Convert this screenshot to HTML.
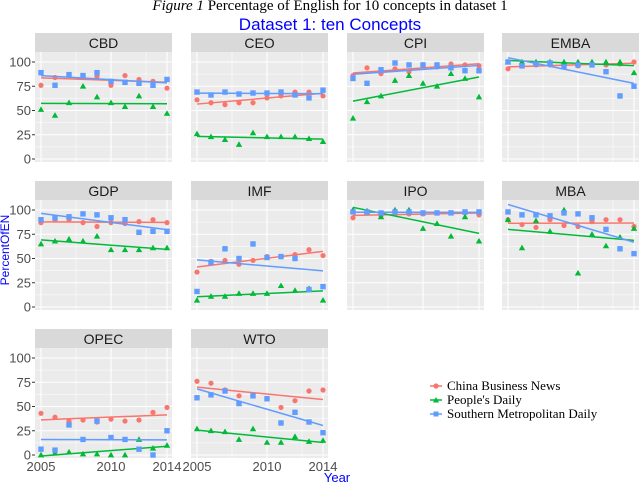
<!DOCTYPE html>
<html><head><meta charset="utf-8"><style>
body{margin:0;background:#fff;}
svg{display:block;}
</style></head><body>
<svg id="c" width="640" height="485" xmlns="http://www.w3.org/2000/svg">
<text x="330" y="10" text-anchor="middle" font-family="Liberation Serif, serif" font-size="15" fill="#000"><tspan font-style="italic">Figure 1</tspan> Percentage of English for 10 concepts in dataset 1</text>
<text x="330" y="30" text-anchor="middle" font-family="Liberation Sans, sans-serif" font-size="17" fill="#0000ff">Dataset 1: ten Concepts</text>
<text transform="translate(9,250) rotate(-90)" text-anchor="middle" font-family="Liberation Sans, sans-serif" font-size="12" fill="#0000ff">PercentOfEN</text>
<text x="337" y="482" text-anchor="middle" font-family="Liberation Sans, sans-serif" font-size="13" fill="#0000ff">Year</text>
<g id="panels"></g>
<g font-family="Liberation Serif, serif" font-size="13">
<line x1="430" y1="386" x2="442" y2="386" stroke="#F8766D" stroke-width="1.5"/><circle cx="436" cy="386" r="2.6" fill="#F8766D"/>
<text x="447" y="390">China Business News</text>
<line x1="430" y1="400" x2="442" y2="400" stroke="#00BA38" stroke-width="1.5"/><path d="M436,397 L439,402.5 L433,402.5Z" fill="#00BA38"/>
<text x="447" y="404">People's Daily</text>
<line x1="430" y1="414" x2="442" y2="414" stroke="#619CFF" stroke-width="1.5"/><rect x="433.5" y="411.5" width="5" height="5" fill="#619CFF"/>
<text x="447" y="418">Southern Metropolitan Daily</text>
</g>
</svg>
<script>
const years=[2005,2006,2007,2008,2009,2010,2011,2012,2013,2014];
const concepts=["CBD","CEO","CPI","EMBA","GDP","IMF","IPO","MBA","OPEC","WTO"];
const cbn={
CBD:[76,84,86,86,85,76,86,82,80,73],
CEO:[61,58,56,58,58,63,65,69,69,65],
CPI:[86,94,88,93,90,97,95,98,97,96],
EMBA:[93,97,97,97,97,96,97,97,98,100],
GDP:[87,90,90,87,83,87,86,88,90,87],
IMF:[36,47,48,44,48,52,52,54,59,53],
IPO:[92,97,94,96,96,96,97,97,97,95],
MBA:[90,85,82,90,84,83,88,90,90,83],
OPEC:[43,39,35,36,34,37,35,36,44,49],
WTO:[76,74,67,61,62,58,49,56,66,67]};
const pd={
CBD:[51,45,58,75,64,58,54,65,54,47],
CEO:[26,23,20,15,27,23,23,23,21,18],
CPI:[42,59,65,81,86,78,75,88,83,64],
EMBA:[100,100,100,100,100,100,100,100,100,89],
GDP:[65,68,70,68,73,59,59,59,61,61],
IMF:[7,11,11,14,14,14,22,17,19,7],
IPO:[100,99,93,100,100,81,86,73,93,68],
MBA:[90,61,89,78,100,35,75,63,72,81],
OPEC:[0,2,3,1,1,0,0,16,7,10],
WTO:[27,25,24,16,27,13,13,19,14,15]};
const smd={
CBD:[89,76,87,86,89,80,79,78,76,82],
CEO:[69,66,69,67,68,68,69,66,63,71],
CPI:[83,78,92,99,97,97,97,94,91,91],
EMBA:[100,96,98,99,95,97,97,90,65,75],
GDP:[90,92,93,96,95,92,90,77,78,78],
IMF:[16,46,60,50,65,51,52,50,18,21],
IPO:[98,98,97,98,98,97,97,97,98,98],
MBA:[98,95,95,94,97,96,92,80,60,55],
OPEC:[6,5,31,16,35,18,16,6,0,25],
WTO:[59,62,66,53,61,58,33,44,34,23]};
const yTicks=[0,25,50,75,100];
const xTicks=[2005,2010,2014];

const NS="http://www.w3.org/2000/svg";
const root=document.getElementById('panels');
function mk(tag,attrs,parent){const e=document.createElementNS(NS,tag);for(const k in attrs)e.setAttribute(k,attrs[k]);(parent||root).appendChild(e);return e;}
const colL=[35,191,347,502],rowT=[33,181,329],PW=137,SH=19,PH=110;
const series=[{d:cbn,c:"#F8766D",s:"circle",n:"china-business-news"},{d:pd,c:"#00BA38",s:"tri",n:"peoples-daily"},{d:smd,c:"#619CFF",s:"square",n:"southern-metropolitan-daily"}];
function fit(v){const n=years.length;let mx=0,my=0;for(let i=0;i<n;i++){mx+=years[i];my+=v[i];}mx/=n;my/=n;let a=0,b=0;for(let i=0;i<n;i++){a+=(years[i]-mx)*(v[i]-my);b+=(years[i]-mx)**2;}const k=a/b;return t=>my+k*(t-mx);}
concepts.forEach((cn,idx)=>{
  const col=idx%4,row=Math.floor(idx/4);
  const L=colL[col],T=rowT[row];
  const g=mk('g',{});
  
  
  const top=T+SH;
  const xs=t=>L+6+(t-2005)*(126/9);
  const ys=v=>top+10+(100-v)*0.97;
  mk('rect',{x:L,y:T,width:PW,height:SH,fill:"#D9D9D9"},g);
  const st=mk('text',{x:L+PW/2,y:T+15,'text-anchor':'middle','font-family':'Liberation Sans, sans-serif','font-size':'14',fill:'#1a1a1a'},g);
  st.textContent=cn;
  
  
  mk('rect',{x:L,y:top,width:PW,height:PH,fill:"#EBEBEB"},g);
  for(let v=-12.5;v<=112.5;v+=12.5){const y=ys(v);if(y<top||y>top+PH)continue;mk('line',{x1:L,x2:L+PW,y1:y,y2:y,stroke:'#fff','stroke-width':(v%25===0)?1.1:0.5},g);}
  [2005,2007.5,2010,2012.5,2014].forEach((t,i)=>{mk('line',{x1:xs(t),x2:xs(t),y1:top,y2:top+PH,stroke:'#fff','stroke-width':(i%2===0)?1.1:0.5},g);});
  if(col===0){yTicks.forEach(v=>{const tx=mk('text',{x:L-4,y:ys(v)+4.5,'text-anchor':'end','font-family':'Liberation Sans, sans-serif','font-size':'13',fill:'#4d4d4d'},g);tx.textContent=v;mk('line',{x1:L-3,x2:L,y1:ys(v),y2:ys(v),stroke:'#333'},g);});}
  if(row===2){xTicks.forEach(t=>{const tx=mk('text',{x:xs(t),y:top+PH+13,'text-anchor':'middle','font-family':'Liberation Sans, sans-serif','font-size':'13',fill:'#4d4d4d'},g);tx.textContent=t;});}
  series.forEach(s=>{
    const v=s.d[cn];const f=fit(v);
    const ln=mk('line',{x1:xs(2005),y1:ys(f(2005)),x2:xs(2014),y2:ys(f(2014)),stroke:s.c,'stroke-width':1.5},g);
    
    
    v.forEach((val,i)=>{
      const x=xs(years[i]),y=ys(val);let p;
      if(s.s==='circle')p=mk('circle',{cx:x,cy:y,r:2.6,fill:s.c},g);
      else if(s.s==='tri')p=mk('path',{d:`M${x},${y-3.2} L${x+3.2},${y+2.4} L${x-3.2},${y+2.4}Z`,fill:s.c},g);
      else p=mk('rect',{x:x-2.7,y:y-2.7,width:5.4,height:5.4,fill:s.c},g);
      
      
    });
  });
});
</script>
</body></html>
